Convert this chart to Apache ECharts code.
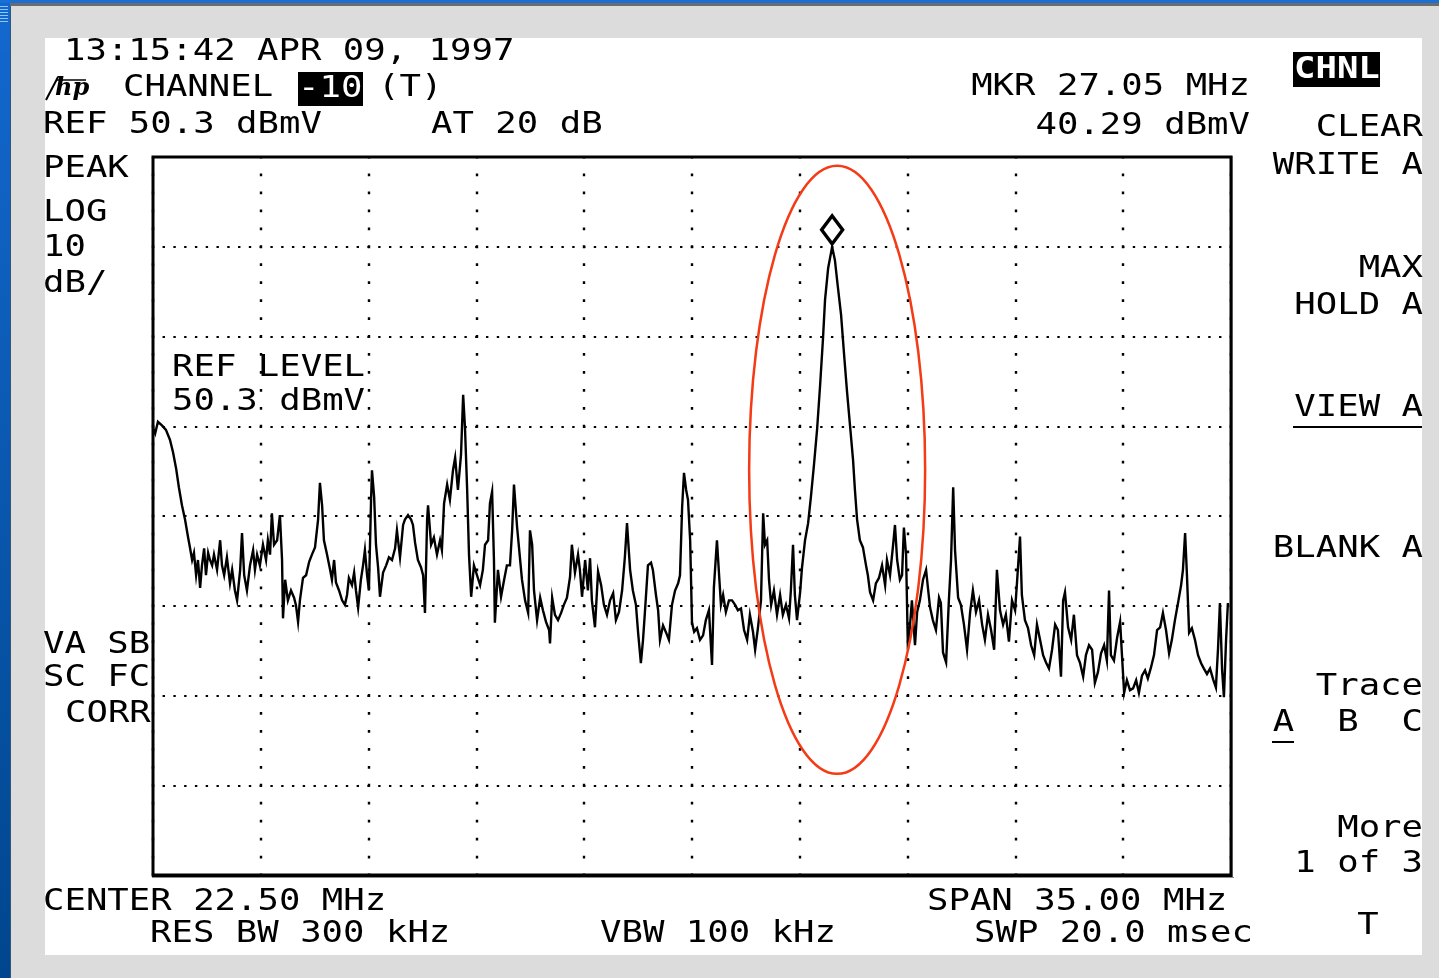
<!DOCTYPE html>
<html>
<head>
<meta charset="utf-8">
<title>Spectrum analyzer screen</title>
<script src="https://cdn.jsdelivr.net/npm/echarts@6/dist/echarts.min.js"></script>
<style>
  html, body { margin: 0; padding: 0; background: #dcdcdc; }
  #screen { width: 1439px; height: 978px; }
</style>
</head>
<body>
<div id="screen"></div>
<script>
// ---- instrument settings ----
const centerMHz = 22.5;
const spanMHz = 35;
const refLevelDbmv = 50.3;
const dbPerDiv = 10;
const xDivisions = 10;
const yDivisions = 8;
const attenDb = 20;
const resBwKHz = 300;
const vbwKHz = 100;
const sweepMs = 20.0;
const markerMHz = 27.05;
const markerDbmv = 40.29;

// ---- trace A (frequency in MHz, level in dBmV) ----
const traceMHz = [
  5.00, 5.07, 5.16, 5.29, 5.42, 5.55, 5.65, 5.75, 5.84, 5.94,
  6.04, 6.14, 6.20, 6.27, 6.33, 6.40, 6.46, 6.53, 6.59, 6.66,
  6.72, 6.79, 6.85, 6.92, 6.98, 7.08, 7.18, 7.24, 7.31, 7.40,
  7.50, 7.57, 7.66, 7.73, 7.83, 7.89, 7.96, 8.05, 8.15, 8.25,
  8.31, 8.38, 8.47, 8.57, 8.67, 8.73, 8.80, 8.86, 8.93, 9.03,
  9.12, 9.19, 9.22, 9.29, 9.38, 9.48, 9.58, 9.64, 9.71, 9.77,
  9.87, 9.97, 10.07, 10.16, 10.26, 10.36, 10.42, 10.49, 10.55, 10.65,
  10.75, 10.81, 10.88, 10.94, 11.04, 11.14, 11.23, 11.30, 11.36, 11.46,
  11.53, 11.59, 11.66, 11.75, 11.82, 11.88, 11.95, 12.01, 12.08, 12.11,
  12.18, 12.24, 12.31, 12.37, 12.47, 12.57, 12.66, 12.76, 12.86, 12.92,
  13.02, 13.12, 13.18, 13.28, 13.38, 13.44, 13.51, 13.60, 13.70, 13.77,
  13.83, 13.90, 13.93, 14.03, 14.12, 14.22, 14.32, 14.38, 14.45, 14.55,
  14.64, 14.74, 14.81, 14.90, 15.00, 15.07, 15.13, 15.20, 15.26, 15.33,
  15.42, 15.52, 15.62, 15.71, 15.78, 15.88, 15.94, 16.01, 16.07, 16.10,
  16.20, 16.30, 16.40, 16.49, 16.59, 16.66, 16.72, 16.82, 16.92, 16.98,
  17.08, 17.18, 17.24, 17.31, 17.37, 17.47, 17.57, 17.66, 17.76, 17.86,
  17.89, 17.96, 18.05, 18.15, 18.25, 18.34, 18.44, 18.54, 18.60, 18.70,
  18.80, 18.86, 18.93, 19.03, 19.12, 19.19, 19.25, 19.35, 19.45, 19.55,
  19.64, 19.74, 19.84, 19.94, 20.03, 20.13, 20.23, 20.32, 20.39, 20.49,
  20.58, 20.68, 20.75, 20.84, 20.91, 20.97, 21.07, 21.17, 21.23, 21.33,
  21.40, 21.46, 21.56, 21.66, 21.75, 21.85, 21.95, 22.05, 22.11, 22.18,
  22.24, 22.31, 22.37, 22.44, 22.50, 22.57, 22.66, 22.76, 22.86, 22.95,
  23.05, 23.15, 23.21, 23.31, 23.38, 23.44, 23.51, 23.60, 23.70, 23.80,
  23.90, 23.99, 24.09, 24.19, 24.29, 24.38, 24.48, 24.55, 24.64, 24.74,
  24.81, 24.87, 24.94, 25.00, 25.07, 25.16, 25.26, 25.36, 25.45, 25.55,
  25.65, 25.71, 25.78, 25.84, 25.91, 26.01, 26.07, 26.17, 26.27, 26.36,
  26.46, 26.56, 26.66, 26.75, 26.82, 26.92, 27.05, 27.14, 27.23, 27.34,
  27.44, 27.53, 27.63, 27.73, 27.79, 27.86, 27.95, 28.05, 28.15, 28.21,
  28.28, 28.38, 28.47, 28.57, 28.67, 28.77, 28.83, 28.93, 29.03, 29.09,
  29.16, 29.25, 29.32, 29.38, 29.45, 29.51, 29.58, 29.64, 29.74, 29.81,
  29.90, 30.00, 30.10, 30.16, 30.23, 30.32, 30.42, 30.52, 30.58, 30.65,
  30.75, 30.84, 30.91, 30.98, 31.04, 31.14, 31.23, 31.33, 31.43, 31.53,
  31.62, 31.72, 31.82, 31.92, 32.01, 32.11, 32.21, 32.31, 32.40, 32.50,
  32.60, 32.69, 32.79, 32.89, 32.99, 33.05, 33.15, 33.21, 33.31, 33.41,
  33.51, 33.61, 33.70, 33.80, 33.90, 33.99, 34.09, 34.19, 34.29, 34.38,
  34.48, 34.55, 34.61, 34.71, 34.81, 34.90, 35.00, 35.10, 35.20, 35.29,
  35.39, 35.49, 35.58, 35.68, 35.78, 35.88, 35.97, 36.04, 36.10, 36.20,
  36.30, 36.40, 36.46, 36.53, 36.62, 36.72, 36.82, 36.92, 37.01, 37.11,
  37.21, 37.30, 37.40, 37.50, 37.60, 37.70, 37.79, 37.89, 37.99, 38.08,
  38.18, 38.28, 38.38, 38.44, 38.51, 38.57, 38.64, 38.73, 38.83, 38.93,
  39.03, 39.12, 39.22, 39.32, 39.42, 39.51, 39.58, 39.64, 39.71, 39.77,
  39.84, 39.90
];
const traceDbmv = [
  20.1, 19.5, 20.8, 20.4, 19.9, 18.8, 17.4, 15.6, 13.5, 11.5,
  9.9, 7.9, 6.8, 5.4, 6.2, 3.7, 5.4, 2.3, 4.8, 6.7,
  3.7, 6.2, 5.4, 4.8, 6.0, 4.3, 7.6, 4.8, 3.7, 5.7,
  2.8, 4.3, 2.0, 0.9, 4.3, 8.4, 3.7, 2.0, 4.8, 6.5,
  4.3, 6.0, 4.8, 7.1, 5.4, 7.6, 6.0, 10.6, 7.1, 7.6,
  10.4, 5.4, -1.1, 3.2, 0.9, 2.0, 1.2, 0.4, -1.5, 0.9,
  3.4, 3.7, 5.2, 6.0, 6.8, 9.9, 14.0, 11.5, 7.6, 6.0,
  4.3, 3.2, 5.4, 2.9, 2.0, 0.9, 0.4, 1.5, 3.4, 2.6,
  4.0, 2.0, 0.1, 3.2, 4.8, 6.5, 3.7, 2.0, 12.1, 15.4,
  12.4, 7.1, 4.5, 1.3, 4.0, 4.8, 5.7, 5.4, 6.7, 8.7,
  5.7, 9.3, 9.9, 10.4, 9.9, 9.3, 7.3, 5.4, 4.6, 3.7,
  -0.5, 9.9, 11.5, 7.1, 7.9, 6.0, 7.6, 6.5, 11.7, 13.8,
  12.1, 15.4, 16.8, 13.2, 17.1, 23.8, 20.1, 13.2, 6.0, 1.3,
  4.8, 3.7, 2.6, 4.3, 7.1, 7.6, 11.7, 13.0, 5.4, -1.6,
  4.3, 1.3, 3.2, 4.8, 4.8, 8.7, 13.8, 9.1, 5.4, 3.2,
  0.9, -0.5, 8.7, 7.1, 2.0, -1.3, 1.2, -0.2, -1.5, -2.4,
  -3.9, 1.2, -0.7, -1.3, -0.5, 0.4, 1.2, 3.5, 7.1, 4.0,
  6.0, 4.3, 1.3, 5.4, 2.0, 5.6, 0.9, -2.1, 4.1, 2.6,
  0.4, -0.7, 0.9, 1.7, -1.3, -0.4, 2.0, 5.7, 9.5, 4.3,
  2.0, 0.4, -2.7, -6.1, -3.5, -0.5, 4.8, 5.1, 4.3, 1.5,
  -0.2, -3.5, -1.9, -2.7, -3.5, 0.4, 2.0, 2.8, 3.7, 11.3,
  15.1, 13.2, 12.1, 7.6, -1.6, -2.6, -2.2, -3.5, -3.0, -1.3,
  -0.2, -6.3, 2.3, 7.6, 3.7, 0.4, 1.5, -0.4, 0.9, 0.9,
  0.4, -0.2, 0.0, -2.4, -3.5, -0.7, -2.6, -4.6, -2.2, 0.9,
  10.6, 7.1, 7.6, 3.2, 0.4, 2.0, -0.7, 1.5, -0.7, 0.4,
  -1.1, 2.0, 7.1, 1.5, -1.3, 1.8, 4.5, 7.6, 9.5, 12.4,
  16.0, 19.9, 24.9, 29.9, 34.4, 37.9, 40.29, 38.8, 36.0, 32.7,
  28.2, 24.3, 20.4, 16.5, 13.2, 9.9, 7.6, 6.8, 4.8, 3.7,
  1.8, 0.9, 2.8, 3.4, 4.8, 2.6, 5.4, 3.7, 7.1, 9.3,
  5.4, 3.2, 3.7, 9.0, 6.0, -4.6, -1.8, 0.9, -4.1, -0.4,
  0.9, 3.2, 4.3, 2.3, 0.1, -1.3, -2.4, 1.2, 0.6, -4.9,
  -6.0, 0.9, 5.4, 13.5, 6.5, 1.2, 0.4, -1.8, -4.6, -0.4,
  2.0, -0.4, 0.9, -1.8, -3.5, -0.7, -2.4, -4.6, 4.3, -0.2,
  -1.8, -0.7, -3.7, 0.9, -0.2, 2.8, 8.0, 1.5, -1.3, -2.2,
  -4.1, -5.2, -1.8, -3.5, -5.2, -6.0, -6.7, -4.6, -1.8, -2.4,
  -7.6, 0.9, 1.8, -2.1, -3.5, -0.7, -5.2, -6.1, -7.6, -5.2,
  -4.1, -4.6, -8.3, -7.1, -5.0, -4.1, -5.8, 2.0, -5.2, -5.8,
  -3.3, -1.5, -5.2, -9.4, -8.0, -9.1, -8.9, -8.0, -9.4, -7.5,
  -6.9, -7.8, -6.6, -5.2, -2.4, -2.1, -0.5, -2.4, -5.0, -3.5,
  -1.3, 0.6, 2.6, 4.3, 8.4, 3.7, -2.7, -2.2, -3.5, -5.2,
  -6.1, -6.7, -7.3, -6.7, -7.9, -8.8, -4.4, 0.6, -6.8, -9.9,
  -3.5, 0.6
];

// ---- soft-key menu ----
const menuKeys = ['CLEAR', 'WRITE A', 'MAX', 'HOLD A', 'VIEW A', 'BLANK A', 'Trace', 'A  B  C', 'More', '1 of 3'];
const menuRows = [128, 166, 269, 306, 408, 549, 687, 723, 829, 864];

// ---- derived axis extents ----
const startMHz = centerMHz - spanMHz / 2;
const stopMHz = centerMHz + spanMHz / 2;
const bottomDbmv = refLevelDbmv - dbPerDiv * yDivisions;

const tracePoints = traceMHz.map((f, i) => [f, traceDbmv[i]]);

// plot frame
const PLOT = { left: 153, top: 157, width: 1078, height: 718 };

// character-cell text, like the analyzer's fixed-pitch display font
const PITCH = 21.45;
const FONT_SIZE = 30;
const FONT_FAMILY = '"DejaVu Sans Mono", "Liberation Mono", monospace';
const SX = PITCH / (FONT_SIZE * 0.6021);

function label(text, x, y, align, extra) {
  extra = extra || {};
  align = align || 'left';
  return {
    type: 'text',
    x: x, y: y,
    scaleX: SX,
    z: 100,
    silent: true,
    style: {
      text: text,
      x: 0, y: 0,
      font: (extra.weight || 'normal') + ' ' + FONT_SIZE + 'px ' + FONT_FAMILY,
      fill: extra.fill || '#000',
      align: align, textAlign: align,
      verticalAlign: 'middle', textVerticalAlign: 'middle'
    }
  };
}
function box(x, y, w, h, fill, z) {
  return { type: 'rect', silent: true, z: z == null ? 50 : z,
           shape: { x: x, y: y, width: w, height: h }, style: { fill: fill } };
}
function hline(x1, x2, y, w, color, z) {
  return { type: 'line', silent: true, z: z == null ? 100 : z,
           shape: { x1: x1, y1: y, x2: x2, y2: y },
           style: { stroke: color || '#000', lineWidth: w || 2 } };
}

const elements = [];

// page chrome: grey surround, blue window edge, white screen
elements.push(box(0, 0, 1439, 978, '#dcdcdc', -20));
elements.push({
  type: 'rect', silent: true, z: -19,
  shape: { x: 0, y: 0, width: 10, height: 978 },
  style: { fill: { type: 'linear', x: 0, y: 0, x2: 0, y2: 1,
    colorStops: [{ offset: 0, color: '#1368cf' }, { offset: 1, color: '#00468e' }] } }
});
elements.push(box(10, 0, 1, 978, '#335577', -19));
elements.push(box(0, 0, 1439, 3, '#1a6fd4', -18));
elements.push(box(10, 3, 1429, 3, '#6c6c6c', -18));
for (let i = 0; i < 6; i++) {
  elements.push(box(0, 6 + i * 3, 8, 1, '#8cc8ff', -17));
}
elements.push(box(45, 38, 1377, 917, '#ffffff', -16));

// header
elements.push(label('13:15:42 APR 09, 1997', 64, 52));
elements.push({
  type: 'line', silent: true, z: 100,
  shape: { x1: 46, y1: 100, x2: 58, y2: 77 }, style: { stroke: '#000', lineWidth: 2 }
});
elements.push({
  type: 'text', x: 55, y: 89, z: 100, silent: true,
  style: { text: 'hp', font: 'italic bold 24px "DejaVu Serif", serif', fill: '#000',
           align: 'left', textAlign: 'left', verticalAlign: 'middle', textVerticalAlign: 'middle' }
});
elements.push(hline(56, 86, 80, 1.5, '#000'));
elements.push(label('CHANNEL', 123, 88));
elements.push(box(298, 72, 65, 34, '#000', 90));
elements.push(label('-10', 298, 89, 'left', { fill: '#fff' }));
elements.push(label('(T)', 378, 88));
elements.push(label('REF ' + refLevelDbmv.toFixed(1) + ' dBmV', 43, 125));
elements.push(label('AT ' + attenDb + ' dB', 431, 125));
elements.push(label('MKR ' + markerMHz.toFixed(2) + ' MHz', 1250, 87, 'right'));
elements.push(label(markerDbmv.toFixed(2) + ' dBmV', 1250, 126, 'right'));
elements.push(box(1293, 52, 87, 35, '#000', 90));
elements.push(label('CHNL', 1294, 70, 'left', { fill: '#fff', weight: 'bold' }));

// soft keys
menuKeys.forEach((k, i) => elements.push(label(k, 1423, menuRows[i], 'right')));
elements.push(label('T', 1368, 926, 'center'));
elements.push(hline(1293, 1422, 427, 2));
elements.push(hline(1272, 1294, 742, 2));

// left annotations
elements.push(label('PEAK', 43, 169));
elements.push(label('LOG', 43, 213));
elements.push(label(String(dbPerDiv), 43, 248));
elements.push(label('dB/', 43, 284));
elements.push(label('VA SB', 43, 645));
elements.push(label('SC FC', 43, 678));
elements.push(label('CORR', 65, 714));
elements.push(label('REF LEVEL', 172, 368));
elements.push(label(refLevelDbmv.toFixed(1) + ' dBmV', 172, 402));

// bottom annotations
elements.push(label('CENTER ' + centerMHz.toFixed(2) + ' MHz', 43, 902));
elements.push(label('RES BW ' + resBwKHz + ' kHz', 150, 934));
elements.push(label('VBW ' + vbwKHz + ' kHz', 600, 934));
elements.push(label('SPAN ' + spanMHz.toFixed(2) + ' MHz', 927, 902));
elements.push(label('SWP ' + sweepMs.toFixed(1) + ' msec', 974, 934));

// heavier lower/right frame edge
elements.push(box(152, 875, 1081, 2, '#000', 60));
elements.push(box(152, 877, 1082, 1, '#8a8a8a', 60));
elements.push(box(1232, 156, 1, 721, '#555', 60));

const chart = echarts.init(document.getElementById('screen'), null, { renderer: 'canvas' });

const option = {
  animation: false,
  backgroundColor: '#dcdcdc',
  grid: {
    left: PLOT.left, top: PLOT.top, width: PLOT.width, height: PLOT.height,
    show: true, borderColor: '#000', borderWidth: 3, backgroundColor: 'transparent'
  },
  xAxis: [
    { type: 'value', min: startMHz, max: stopMHz, show: false },
    { // graticule: 10 horizontal divisions
      type: 'value', min: 0, max: xDivisions, interval: 1, position: 'bottom',
      axisLine: { show: false }, axisTick: { show: false }, axisLabel: { show: false },
      splitLine: { show: true, lineStyle: { color: '#000', width: 2.4, type: [2.8, 15.15], dashOffset: 1.4 } }
    }
  ],
  yAxis: [
    { type: 'value', min: bottomDbmv, max: refLevelDbmv, show: false },
    { // graticule: 8 vertical divisions
      type: 'value', min: 0, max: yDivisions, interval: 1,
      axisLine: { show: false }, axisTick: { show: false }, axisLabel: { show: false },
      splitLine: { show: true, lineStyle: { color: '#000', width: 2.2, type: [2.4, 8.38], dashOffset: 1.2 } }
    }
  ],
  graphic: { elements: elements },
  series: [
    {
      name: 'Trace A',
      type: 'line',
      xAxisIndex: 0, yAxisIndex: 0,
      data: tracePoints,
      showSymbol: false,
      symbol: 'none',
      z: 5,
      lineStyle: { color: '#000', width: 2.4, join: 'miter' },
      markPoint: {
        symbol: 'diamond',
        symbolSize: [21, 28],
        symbolOffset: [0, -17],
        itemStyle: { color: '#fff', borderColor: '#000', borderWidth: 3.5 },
        label: { show: false },
        data: [{ coord: [markerMHz, markerDbmv] }]
      }
    }
  ]
};

chart.setOption(option);

// red ring drawn round the marked carrier
const mk = chart.convertToPixel({ xAxisIndex: 0, yAxisIndex: 0 }, [markerMHz, markerDbmv]);
elements.push({
  type: 'ellipse', silent: true, z: 120,
  shape: { cx: mk[0] + 5, cy: mk[1] + 223, rx: 88, ry: 304 },
  style: { fill: 'none', stroke: '#f53a16', lineWidth: 2.5 }
});
chart.setOption({ graphic: { elements: elements } });
</script>
</body>
</html>
